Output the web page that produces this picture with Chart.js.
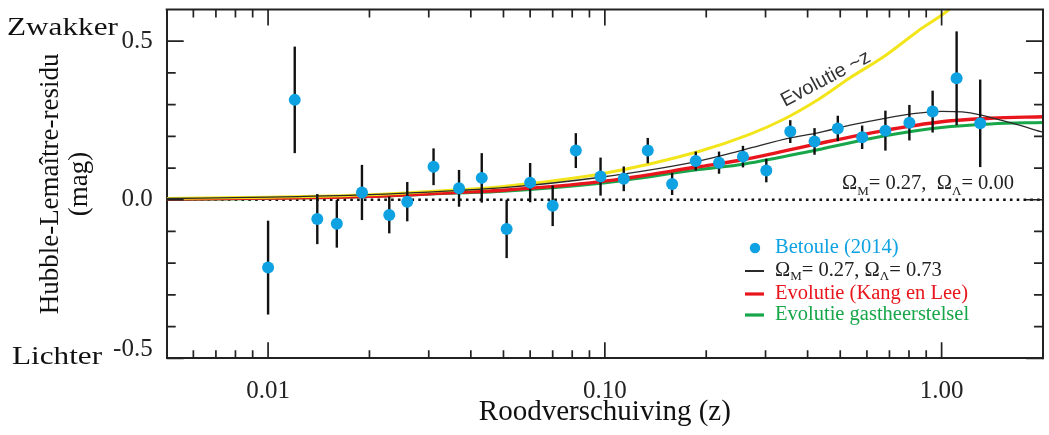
<!DOCTYPE html>
<html><head><meta charset="utf-8">
<script src="https://cdn.jsdelivr.net/npm/chart.js@4.4.1/dist/chart.umd.min.js"></script>
<style>html,body{margin:0;padding:0;background:#fff;}canvas{display:block;}</style>
</head><body>
<canvas id="c" width="1049" height="435"></canvas>
<script>
// ---- Data ----
const Z_BINS = [0.0100,0.0120,0.0140,0.0160,0.0190,0.0229,0.0259,0.0310,0.0369,0.0431,0.0511,0.0600,0.0700,0.0820,0.0971,0.1138,0.1341,0.1584,0.1862,0.2183,0.2571,0.3016,0.3553,0.4194,0.4917,0.5808,0.6809,0.8022,0.9404,1.1080,1.3020];
const RESIDUALS = [-0.214,0.315,-0.061,-0.076,0.023,-0.048,-0.006,0.104,0.036,0.069,-0.092,0.054,-0.019,0.155,0.073,0.066,0.155,0.050,0.122,0.117,0.136,0.092,0.215,0.184,0.225,0.197,0.218,0.243,0.278,0.383,0.241];
const ERRORS = [0.148,0.168,0.079,0.075,0.087,0.058,0.062,0.058,0.058,0.078,0.092,0.062,0.064,0.055,0.060,0.039,0.040,0.035,0.030,0.035,0.034,0.037,0.036,0.042,0.040,0.037,0.063,0.056,0.066,0.148,0.138];

const LCDM_Z = [0.005,0.01,0.02,0.036,0.05,0.097,0.19,0.26,0.355,0.4255,0.535,0.6726,0.85,1.0,1.15,1.3,1.6,2.0];
const LCDM_V = [0.004,0.008,0.016,0.029,0.038,0.071,0.122,0.158,0.195,0.210,0.235,0.256,0.273,0.279,0.277,0.268,0.243,0.213];

const EVOZ_Z = [0.005,0.01,0.02,0.036,0.05,0.097,0.19,0.269,0.3385,0.4255,0.535,0.6726,0.8456,1.063,1.15];
const EVOZ_V = [0.004,0.008,0.016,0.031,0.042,0.081,0.152,0.206,0.253,0.313,0.385,0.451,0.530,0.604,0.640];

const KANG_Z = [0.005,0.01,0.02,0.036,0.05,0.097,0.19,0.26,0.4255,0.6726,1.0,1.4,2.0];
const KANG_V = [0.002,0.005,0.011,0.023,0.030,0.057,0.104,0.127,0.176,0.218,0.246,0.257,0.262];

const HOST_Z = [0.005,0.01,0.02,0.036,0.05,0.097,0.19,0.26,0.4255,0.6726,1.0,1.4,2.0];
const HOST_V = [0.001,0.004,0.010,0.021,0.027,0.052,0.095,0.113,0.157,0.201,0.228,0.239,0.244];

const ZERO_Z = [0.005, 2.0];
const ZERO_V = [0, 0];

// ---- Axis ticks ----
const X_MAJOR = [0.01, 0.1, 1];
const X_LABELS = ['0.01', '0.10', '1.00'];
const X_MINOR = [0.006,0.007,0.008,0.009,0.02,0.03,0.04,0.05,0.06,0.07,0.08,0.09,0.2,0.3,0.4,0.5,0.6,0.7,0.8,0.9];
const Y_MAJOR = [-0.5, 0, 0.5];
const Y_LABELS = ['-0.5', '0.0', '0.5'];
const Y_MINOR = [-0.4,-0.3,-0.2,-0.1,0.1,0.2,0.3,0.4];

// ---- Texts ----
const SERIES_NAMES = ['Betoule (2014)', 'ΩM= 0.27, ΩΛ= 0.73', 'Evolutie (Kang en Lee)', 'Evolutie gastheerstelsel', 'Evolutie ~z'];

const C_BLUE = '#0ea2e3', C_RED = '#e8161c', C_GREEN = '#17a64a', C_YEL = '#f3e51b', C_BLK = '#2a2a2a';
const SERIF = '"Liberation Serif", "Times New Roman", serif';

const pts = (xs, ys) => xs.map((x, i) => ({x, y: ys[i]}));

function drawRich(ctx, x, y, parts, size) {
  let cx = x;
  parts.forEach(([t, sub]) => {
    ctx.font = (sub ? Math.round(size * 0.62) : size) + 'px ' + SERIF;
    ctx.fillText(t, cx, y + (sub ? size * 0.28 : 0));
    cx += ctx.measureText(t).width;
  });
}

const extras = {
  id: 'extras',
  beforeDatasetDraw(chart, args) {
    if (args.index !== 0) return;
    const ctx = chart.ctx, xs = chart.scales.x, ys = chart.scales.y;
    ctx.save();
    ctx.strokeStyle = '#111';
    ctx.lineWidth = 2.4;
    Z_BINS.forEach((z, i) => {
      const px = xs.getPixelForValue(z);
      ctx.beginPath();
      ctx.moveTo(px, ys.getPixelForValue(RESIDUALS[i] - ERRORS[i]));
      ctx.lineTo(px, ys.getPixelForValue(RESIDUALS[i] + ERRORS[i]));
      ctx.stroke();
    });
    ctx.restore();
  },
  afterDraw(chart) {
    const ctx = chart.ctx, xs = chart.scales.x, ys = chart.scales.y;
    const {left, right, top, bottom} = chart.chartArea;
    ctx.save();
    ctx.strokeStyle = '#222';
    ctx.lineWidth = 2;
    ctx.beginPath();
    ctx.moveTo(left - 1, top); ctx.lineTo(right, top); ctx.lineTo(right, bottom + 1);
    ctx.stroke();
    ctx.lineWidth = 1.7;
    const vt = (v, len) => { const p = xs.getPixelForValue(v); ctx.beginPath(); ctx.moveTo(p, bottom); ctx.lineTo(p, bottom - len); ctx.moveTo(p, top); ctx.lineTo(p, top + len); ctx.stroke(); };
    const ht = (v, len) => { const p = ys.getPixelForValue(v); ctx.beginPath(); ctx.moveTo(left, p); ctx.lineTo(left + len, p); ctx.moveTo(right, p); ctx.lineTo(right - len, p); ctx.stroke(); };
    X_MINOR.forEach(v => vt(v, 8));
    X_MAJOR.forEach(v => vt(v, 16));
    Y_MINOR.forEach(v => ht(v, 9));
    Y_MAJOR.forEach(v => ht(v, 17));

    ctx.fillStyle = '#111';
    ctx.textBaseline = 'alphabetic';
    ctx.textAlign = 'left';
    ctx.save(); ctx.translate(7, 35); ctx.scale(1.2, 1); ctx.font = '26px ' + SERIF; ctx.fillText('Zwakker', 0, 0); ctx.restore();
    ctx.save(); ctx.translate(12, 364); ctx.scale(1.2, 1); ctx.font = '26px ' + SERIF; ctx.fillText('Lichter', 0, 0); ctx.restore();

    ctx.save();
    ctx.translate(785, 107);
    ctx.rotate(-28 * Math.PI / 180);
    ctx.font = '20px "Liberation Sans", Arial, sans-serif';
    ctx.fillStyle = '#333';
    ctx.fillText(SERIES_NAMES[4], 0, 0);
    ctx.restore();

    ctx.fillStyle = '#222';
    drawRich(ctx, 842, 189, [['Ω'], ['M', 1], ['= 0.27,  Ω'], ['Λ', 1], ['= 0.00']], 20.5);

    const lx0 = 745, lx1 = 764, tx = 775;
    const rows = [248, 271, 294, 315];
    ctx.textBaseline = 'middle';
    ctx.fillStyle = C_BLUE;
    ctx.beginPath(); ctx.arc(755, rows[0], 5.2, 0, Math.PI * 2); ctx.fill();
    ctx.font = '20.5px ' + SERIF;
    ctx.fillText(SERIES_NAMES[0], tx, rows[0]);
    ctx.strokeStyle = C_BLK; ctx.lineWidth = 2;
    ctx.beginPath(); ctx.moveTo(lx0, rows[1]); ctx.lineTo(lx1, rows[1]); ctx.stroke();
    ctx.fillStyle = '#222';
    drawRich(ctx, tx, rows[1], [['Ω'], ['M', 1], ['= 0.27, Ω'], ['Λ', 1], ['= 0.73']], 20.5);
    ctx.strokeStyle = C_RED; ctx.lineWidth = 3.2;
    ctx.beginPath(); ctx.moveTo(lx0, rows[2]); ctx.lineTo(lx1, rows[2]); ctx.stroke();
    ctx.fillStyle = C_RED; ctx.font = '20.5px ' + SERIF;
    ctx.fillText(SERIES_NAMES[2], tx, rows[2]);
    ctx.strokeStyle = C_GREEN; ctx.lineWidth = 3.2;
    ctx.beginPath(); ctx.moveTo(lx0, rows[3]); ctx.lineTo(lx1, rows[3]); ctx.stroke();
    ctx.fillStyle = C_GREEN; ctx.font = '20.5px ' + SERIF;
    ctx.fillText(SERIES_NAMES[3], tx, rows[3]);
    ctx.restore();
  }
};

new Chart(document.getElementById('c'), {
  type: 'line',
  data: {
    datasets: [
      {label: SERIES_NAMES[0], data: pts(Z_BINS, RESIDUALS), showLine: false, pointRadius: 6, pointHoverRadius: 6,
       pointBackgroundColor: C_BLUE, pointBorderWidth: 0, borderColor: C_BLUE, backgroundColor: C_BLUE},
      {label: SERIES_NAMES[1], data: pts(LCDM_Z, LCDM_V), borderColor: C_BLK, borderWidth: 1.3, pointRadius: 0, cubicInterpolationMode: 'monotone'},
      {label: SERIES_NAMES[4], data: pts(EVOZ_Z, EVOZ_V), borderColor: C_YEL, borderWidth: 3, pointRadius: 0, cubicInterpolationMode: 'monotone'},
      {label: SERIES_NAMES[2], data: pts(KANG_Z, KANG_V), borderColor: C_RED, borderWidth: 3.4, pointRadius: 0, cubicInterpolationMode: 'monotone'},
      {label: SERIES_NAMES[3], data: pts(HOST_Z, HOST_V), borderColor: C_GREEN, borderWidth: 3, pointRadius: 0, cubicInterpolationMode: 'monotone'},
      {label: 'ΩM= 0.27, ΩΛ= 0.00', data: pts(ZERO_Z, ZERO_V), borderColor: '#111', borderWidth: 2.3, borderDash: [2.6, 4.2], pointRadius: 0}
    ]
  },
  options: {
    responsive: false,
    animation: false,
    devicePixelRatio: 1,
    layout: {padding: {top: 9.5, right: 5, left: 0, bottom: 0}},
    plugins: {legend: {display: false}, tooltip: {enabled: false}},
    scales: {
      x: {
        type: 'logarithmic', min: 0.005, max: 2.0,
        afterBuildTicks: (s) => { s.ticks = X_MAJOR.map(v => ({value: v, major: true})); },
        afterFit: (s) => { s.height = 76.7; s.paddingLeft = 0; s.paddingRight = 0; },
        grid: {display: false, drawTicks: false},
        border: {display: true, color: '#222', width: 2},
        ticks: {autoSkip: false, maxRotation: 0, padding: 18, color: '#222',
                font: {family: SERIF, size: 25},
                callback: (v) => { const i = X_MAJOR.indexOf(v); return i >= 0 ? X_LABELS[i] : ''; }},
        title: {display: true, text: 'Roodverschuiving (z)', color: '#111',
                font: {family: SERIF, size: 29, lineHeight: 1.0}, padding: {top: 0, bottom: 8}}
      },
      y: {
        type: 'linear', min: -0.5, max: 0.6,
        afterBuildTicks: (s) => { s.ticks = Y_MAJOR.map(v => ({value: v})); },
        afterFit: (s) => { s.width = 166.7; s.paddingTop = 0; s.paddingBottom = 0; },
        grid: {display: false, drawTicks: false},
        border: {display: true, color: '#222', width: 2},
        ticks: {padding: 14, color: '#222', font: {family: SERIF, size: 25, lineHeight: 0.72},
                callback: (v) => { const i = Y_MAJOR.findIndex(m => Math.abs(m - v) < 1e-9); if (i < 0) return ''; return i === 0 ? [Y_LABELS[i], ''] : Y_LABELS[i]; }},
        title: {display: true, text: ['Hubble-Lemaître-residu', '(mag)'], color: '#111',
                font: {family: SERIF, size: 27, lineHeight: 1.05}, padding: {top: 37, bottom: 0}}
      }
    }
  },
  plugins: [extras]
});
</script>
</body></html>
